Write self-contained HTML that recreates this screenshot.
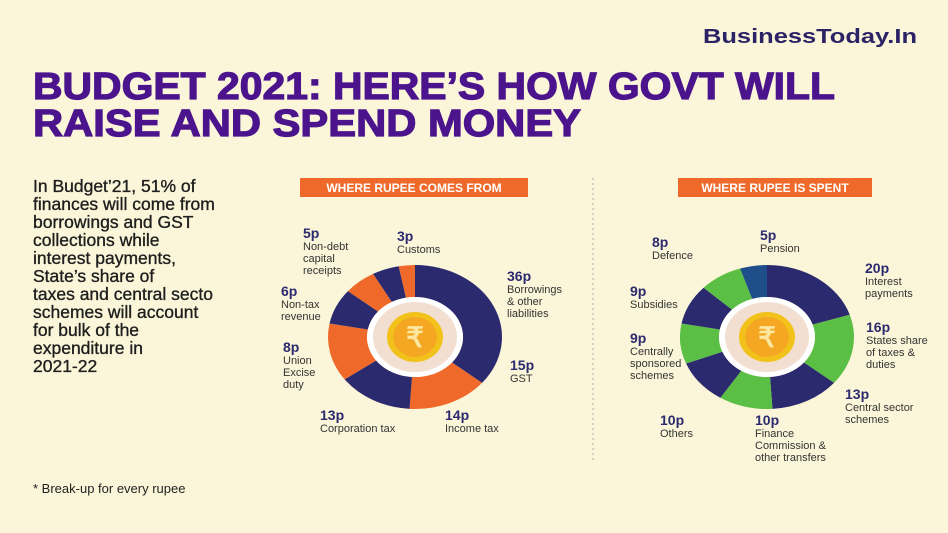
<!DOCTYPE html>
<html><head><meta charset="utf-8"><style>
body{margin:0;width:948px;height:533px;background:#fbf6d9;overflow:hidden;font-family:"Liberation Sans",sans-serif}
svg{position:absolute;left:0;top:0}
</style></head><body>
<svg width="948" height="533">
<rect width="948" height="533" fill="#fbf6d9"/>
<text x="917" y="43" text-anchor="end" font-size="20" font-weight="bold" fill="#2c2366" textLength="214" lengthAdjust="spacingAndGlyphs">BusinessToday.In</text>
<text x="33" y="99" font-size="38" font-weight="bold" fill="#4b148c" stroke="#4b148c" stroke-width="1.2" textLength="802" lengthAdjust="spacingAndGlyphs">BUDGET 2021: HERE’S HOW GOVT WILL</text>
<text x="33" y="136" font-size="38" font-weight="bold" fill="#4b148c" stroke="#4b148c" stroke-width="1.2" textLength="548" lengthAdjust="spacingAndGlyphs">RAISE AND SPEND MONEY</text>
<g font-size="17.5" fill="#1e1e1e" stroke="#1e1e1e" stroke-width="0.35">
<text x="33" y="192">In Budget’21, 51% of</text>
<text x="33" y="210">finances will come from</text>
<text x="33" y="228">borrowings and GST</text>
<text x="33" y="246">collections while</text>
<text x="33" y="264">interest payments,</text>
<text x="33" y="282">State’s share of</text>
<text x="33" y="300">taxes and central secto</text>
<text x="33" y="318">schemes will account</text>
<text x="33" y="336">for bulk of the</text>
<text x="33" y="354">expenditure in</text>
<text x="33" y="372">2021-22</text>
</g>
<rect x="248" y="150" width="30" height="230" fill="#fbf6d9"/>
<text x="33" y="493" font-size="13" fill="#222">* Break-up for every rupee</text>
<line x1="593" y1="178" x2="593" y2="460" stroke="#aaa" stroke-dasharray="2,3"/>
<rect x="300" y="178" width="228" height="19" fill="#ef6a2a"/>
<text x="414" y="192" text-anchor="middle" font-size="12" font-weight="bold" fill="#fff">WHERE RUPEE COMES FROM</text>
<rect x="678" y="178" width="194" height="19" fill="#ef6a2a"/>
<text x="775" y="192" text-anchor="middle" font-size="12" font-weight="bold" fill="#fff">WHERE RUPEE IS SPENT</text>
<g id="d1"></g><g id="d2"></g>
<g font-size="11" fill="#333" id="labels"></g>
</svg>
<script>
const inCats=["Borrowings","GST","Income tax","Corporation tax","Union Excise duty","Non-tax revenue","Non-debt capital receipts","Customs"];
const inVals=[36,15,14,13,8,6,5,3];
const inColors=["#2b2a6e","#ef6a2a","#2b2a6e","#ef6a2a","#2b2a6e","#ef6a2a","#2b2a6e","#ef6a2a"];
const outCats=["Interest payments","States share","Central sector schemes","Finance Commission","Others","Centrally sponsored","Subsidies","Defence","Pension"];
const outVals=[20,16,13,10,10,9,9,8,5];
const outColors=["#2b2a6e","#5cbf45","#2b2a6e","#5cbf45","#2b2a6e","#5cbf45","#2b2a6e","#5cbf45","#1f4f8a"];
const NS="http://www.w3.org/2000/svg";
function donut(gid,cx,cy,vals,cols,name){
  const g=document.getElementById(gid);
  const total=vals.reduce((a,b)=>a+b,0);
  const rx=87,ry=72,irx=48,iry=40;
  let a=0;
  const pt=(ang,x,y)=>[cx+x*Math.sin(ang),cy-y*Math.cos(ang)];
  vals.forEach((v,i)=>{
    const a0=a/total*2*Math.PI;a+=v;const a1=a/total*2*Math.PI;
    const lg=(a1-a0)>Math.PI?1:0;
    const p0=pt(a0,rx,ry),p1=pt(a1,rx,ry),q1=pt(a1,irx,iry),q0=pt(a0,irx,iry);
    const p=document.createElementNS(NS,"path");
    p.setAttribute("d",`M${p0}A${rx},${ry} 0 ${lg} 1 ${p1}L${q1}A${irx},${iry} 0 ${lg} 0 ${q0}Z`);
    p.setAttribute("fill",cols[i]);
    
    
    g.appendChild(p);
  });
  const add=(tag,at)=>{const e=document.createElementNS(NS,tag);for(const k in at)e.setAttribute(k,at[k]);g.appendChild(e);return e;};
  add("ellipse",{cx,cy,rx:irx,ry:iry,fill:"#fff"});
  add("ellipse",{cx,cy,rx:irx-6,ry:iry-5,fill:"#f3dfd2"});
  add("ellipse",{cx,cy,rx:28,ry:25,fill:"#f2c21b"});
  add("ellipse",{cx,cy,rx:22,ry:20,fill:"#f5a623"});
  const t=add("text",{x:cx,y:cy+10,"text-anchor":"middle","font-size":"28","font-weight":"bold",fill:"#fde7a0"});
  t.textContent="₹";
  
  
}
donut("d1",415,337,inVals,inColors,"income-donut");
donut("d2",767,337,outVals,outColors,"spend-donut");
const L=document.getElementById("labels");
const labels=[
[303,238,"5p",["Non-debt","capital","receipts"]],[397,241,"3p",["Customs"]],[507,281,"36p",["Borrowings","& other","liabilities"]],
[281,296,"6p",["Non-tax","revenue"]],[283,352,"8p",["Union","Excise","duty"]],[510,370,"15p",["GST"]],
[320,420,"13p",["Corporation tax"]],[445,420,"14p",["Income tax"]],
[652,247,"8p",["Defence"]],[760,240,"5p",["Pension"]],[865,273,"20p",["Interest","payments"]],
[630,296,"9p",["Subsidies"]],[866,332,"16p",["States share","of taxes &","duties"]],[630,343,"9p",["Centrally","sponsored","schemes"]],
[845,399,"13p",["Central sector","schemes"]],[660,425,"10p",["Others"]],[755,425,"10p",["Finance","Commission &","other transfers"]]
];
labels.forEach(([x,y,v,lines])=>{
  const t=document.createElementNS(NS,"text");
  t.setAttribute("x",x);t.setAttribute("y",y);t.setAttribute("font-size","14");t.setAttribute("font-weight","bold");t.setAttribute("fill","#2b2a6e");
  t.textContent=v;
  
  
  L.appendChild(t);
  lines.forEach((s,i)=>{
    const u=document.createElementNS(NS,"text");
    u.setAttribute("x",x);u.setAttribute("y",y+12+i*12);
    u.textContent=s;
    
    
    L.appendChild(u);
  });
});
</script>
</body></html>
